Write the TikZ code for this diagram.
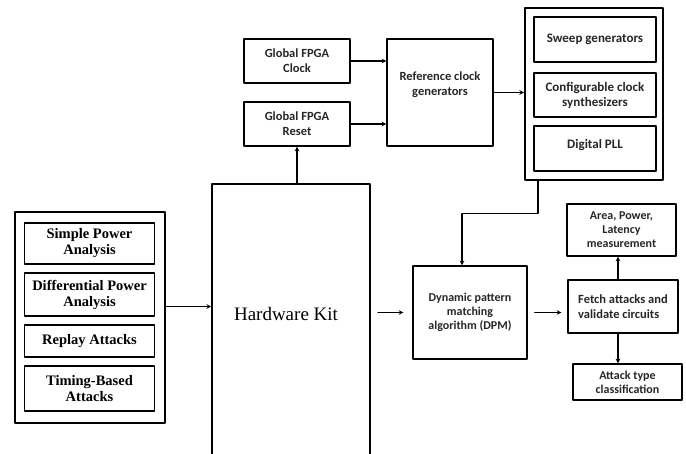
\documentclass[tikz,border=0pt]{standalone}
\usepackage{fontspec}
\setmainfont{Liberation Serif}
\newfontfamily\calibrifont{Carlito}
\usetikzlibrary{positioning}
\begin{document}
\begin{tikzpicture}[x=1pt, y=-1pt, line cap=round, line join=round, >=stealth,
		box/.style={draw, line width=1.2pt, align=center, inner sep=2pt},
		group/.style={draw, line width=1.8pt, inner sep=0pt},
		attack/.style={box, minimum width=130, font=\fontsize{14.5}{16}\selectfont\bfseries},
		sans/.style={box, font=\calibrifont\fontsize{12.5}{15}\selectfont\bfseries, text=black!85},
		link/.style={->, line width=1.1pt}]
	\clip (0,0) rectangle (686,453);
	\node[group, minimum width=150, minimum height=211] (attacks) at (90,317.5) {};
	\node[attack, minimum height=41] (spa) at (89.5,243.5) {Simple Power\\Analysis};
	\node[attack, minimum height=43] (dpa) at (89.5,294.5) {Differential Power\\Analysis};
	\node[attack, minimum height=32] (replay) at (89.5,341) {Replay Attacks};
	\node[attack, minimum height=45] (timing) at (89.5,388.5) {Timing-Based\\Attacks};
	\node[box, line width=1.6pt, minimum width=158, minimum height=286] (hw) at (291,327) {};
	\node[font=\fontsize{19}{20}\selectfont] (hwlabel) at (286,314) {Hardware Kit};
	\node[sans, minimum width=106, minimum height=44] (clk) at (297,61) {Global FPGA\\Clock};
	\node[sans, minimum width=106, minimum height=44] (rst) at (297,124) {Global FPGA\\Reset};
	\node[sans, text depth=17pt, minimum width=106, minimum height=107] (ref) at (440,92.5) {Reference clock\\generators};
	\node[group, minimum width=138, minimum height=172] (clkgen) at (594,94) {};
	\node[sans, font=\calibrifont\fontsize{13}{15}\selectfont\bfseries, minimum width=122, minimum height=45] (sweep) at (595,39.5) {Sweep generators};
	\node[sans, font=\calibrifont\fontsize{13}{15}\selectfont\bfseries, minimum width=122, minimum height=44] (synth) at (595,95) {Configurable clock\\synthesizers};
	\node[sans, font=\calibrifont\fontsize{13}{15}\selectfont\bfseries, text depth=10pt, minimum width=122, minimum height=45] (pll) at (595,148.5) {Digital PLL};
	\node[sans, font=\calibrifont\fontsize{12}{14}\selectfont\bfseries, minimum width=114, minimum height=93] (dpm) at (470,312.5) {Dynamic pattern\\matching\\algorithm (DPM)};
	\node[sans, align=left, minimum width=110, minimum height=53] (fetch) at (623,306.5) {Fetch attacks and\\validate circuits};
	\node[sans, font=\calibrifont\fontsize{12}{14}\selectfont\bfseries, minimum width=109, minimum height=52] (area) at (621.5,230) {Area, Power,\\Latency\\measurement};
	\node[sans, font=\calibrifont\fontsize{12}{14}\selectfont\bfseries, minimum width=109, minimum height=36] (atype) at (627.5,382) {Attack type\\classification};
	\draw[link] ([yshift=11]attacks.east) -- ([yshift=11]attacks.east -| hw.west);
	\draw[link] (rst.south |- hw.north) -- (rst.south);
	\draw[link] (clk.east) -- (clk.east -| ref.west);
	\draw[link] (rst.east) -- (rst.east -| ref.west);
	\draw[link] (ref.east) -- (ref.east -| clkgen.west);
	\draw[link] ([xshift=-56]clkgen.south) -- ++(0,33) -| ([xshift=-8]dpm.north);
	\draw[link, shorten <=7pt, shorten >=9pt] (hw.east |- dpm) -- (dpm.west);
	\draw[link, shorten <=7pt, shorten >=6pt] (dpm.east) -- (dpm.east -| fetch.west);
	\draw[link] ([xshift=-5]fetch.north) -- ([xshift=-5]fetch.north |- area.south);
	\draw[link] ([xshift=-5]fetch.south) -- ([xshift=-5]fetch.south |- atype.north);
\end{tikzpicture}
\end{document}
